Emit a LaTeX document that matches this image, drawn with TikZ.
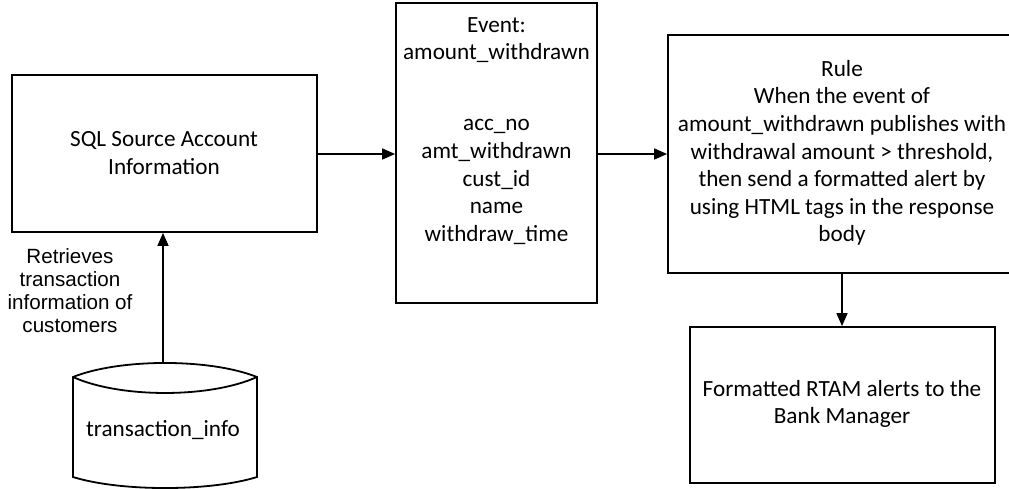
\documentclass[tikz,border=0pt]{standalone}
\usepackage{fontspec}
\setmainfont{Carlito}
\newfontfamily\labelfont{Liberation Sans}
\usetikzlibrary{arrows.meta}
\begin{document}
\begin{tikzpicture}[x=1pt,y=-1pt,
  box/.style={draw,line width=1.8pt,inner sep=0pt},
  boxtext/.style={align=center,font=\fontsize{23.2}{27.6}\selectfont,inner sep=0pt},
  flow/.style={line width=1.6pt,-{Triangle[length=13pt,width=11pt]}},
  note/.style={align=center,font=\labelfont\fontsize{20.6}{23}\selectfont,inner sep=0pt}]
\useasboundingbox (0,0) rectangle (1009,489);

% SQL source
\node[box,minimum width=305pt,minimum height=157pt] (sql) at (164.5,153.5) {};
\node[boxtext] (sqltxt) at (164,153) {SQL Source Account\\Information};

% event box
\node[box,minimum width=201pt,minimum height=300pt] (event) at (496.5,153) {};
\node[boxtext] (eventhead) at (496.5,40) {Event:\\amount\_withdrawn};
\node[boxtext] (eventfields) at (496.5,182) {acc\_no\\amt\_withdrawn\\cust\_id\\name\\withdraw\_time};

% rule box
\node[box,minimum width=348pt,minimum height=238pt] (rule) at (842,154) {};
\node[boxtext] (ruletxt) at (842,153) {Rule\\When the event of\\amount\_withdrawn publishes with\\withdrawal amount > threshold,\\then send a formatted alert by\\using HTML tags in the response\\body};

% alerts box
\node[box,minimum width=305pt,minimum height=156pt] (alerts) at (842.5,405) {};
\node[boxtext] (alertstxt) at (842,404) {Formatted RTAM alerts to the\\Bank Manager};

% database cylinder
\draw[line width=1.8pt,line join=miter]
  (73,377) .. controls (120,358.3) and (210,358.3) .. (257,377)
  -- (257,477) .. controls (210,491.7) and (120,491.7) .. (73,477) -- cycle;
\draw[line width=1.8pt] (73,377) .. controls (120,398.3) and (210,398.3) .. (257,377);
\coordinate (dbtop) at (163,363);
\node[boxtext] (dbtxt) at (163,430) {transaction\_info};

% connectors
\draw[flow] (sql.east |- 0,154) -- (event.west |- 0,154);
\draw[flow] (event.east |- 0,154) -- (rule.west |- 0,154);
\draw[flow] (rule.south -| 842,0) -- (alerts.north -| 842,0);
\draw[flow] (dbtop) -- (dbtop |- sql.south);
\node[note] (retrieves) at (70,290.5) {Retrieves\\transaction\\information of\\customers};
\end{tikzpicture}
\end{document}
